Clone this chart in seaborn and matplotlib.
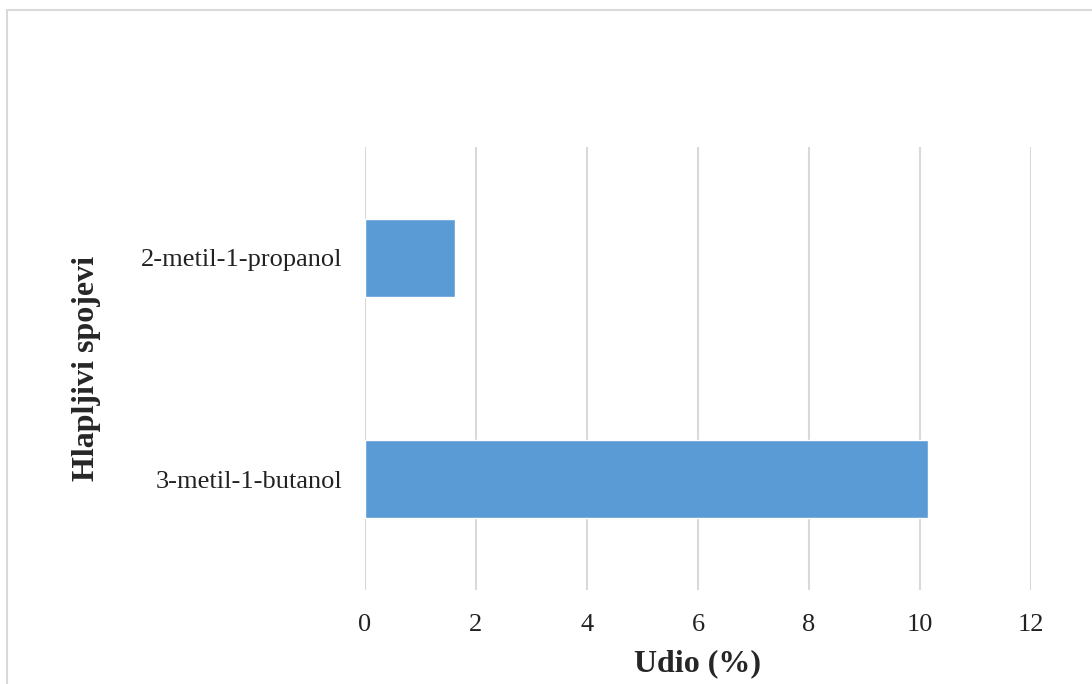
import seaborn as sns
import matplotlib.pyplot as plt
import matplotlib.patches as mpatches
import pandas as pd

# values (Udio %)
spojevi = ["2-metil-1-propanol", "3-metil-1-butanol"]
udio = [1.62, 10.15]
x_ticks = [0, 2, 4, 6, 8, 10, 12]

df = pd.DataFrame({"spoj": spojevi, "udio": udio})

sns.set_style("white")
plt.rcParams['font.family'] = ['Liberation Serif', 'DejaVu Serif']

fig = plt.figure(figsize=(10.92, 6.84), dpi=100)
ax = fig.add_axes([365 / 1092, 1 - 590 / 684, 666 / 1092, 443 / 684])

sns.barplot(data=df, x="udio", y="spoj", orient="h", color="#5B9BD5",
            saturation=1, width=0.35, ax=ax)

ax.set_xlim(0, 12)
ax.set_ylim(1.5, -0.5)
ax.set_xticks(x_ticks)
ax.set_xticklabels([str(t) for t in x_ticks], fontsize=19)
ax.tick_params(axis="y", labelsize=19, length=0, pad=16.5, labelcolor="#222222")
ax.tick_params(axis="x", length=0, pad=17, labelcolor="#222222")
ax.grid(axis="x", color="#D9D9D9", linewidth=1.5)
ax.set_axisbelow(True)
for s in ax.spines.values():
    s.set_visible(False)

ax.set_xlabel("Udio (%)", fontsize=23, fontweight="bold")
ax.xaxis.set_label_coords(0.5, -0.133)
ax.set_ylabel("Hlapljivi spojevi", fontsize=23, fontweight="bold")
ax.yaxis.set_label_coords(-0.397, 0.5)

# light border round the chart area
fig.patches.append(mpatches.Rectangle((7 / 1092, -0.1), 1.2, 1 - 10 / 684 + 0.1,
                                      transform=fig.transFigure, fill=False,
                                      edgecolor="#D9D9D9", linewidth=1.5))

fig.savefig("out.png", dpi=100)
